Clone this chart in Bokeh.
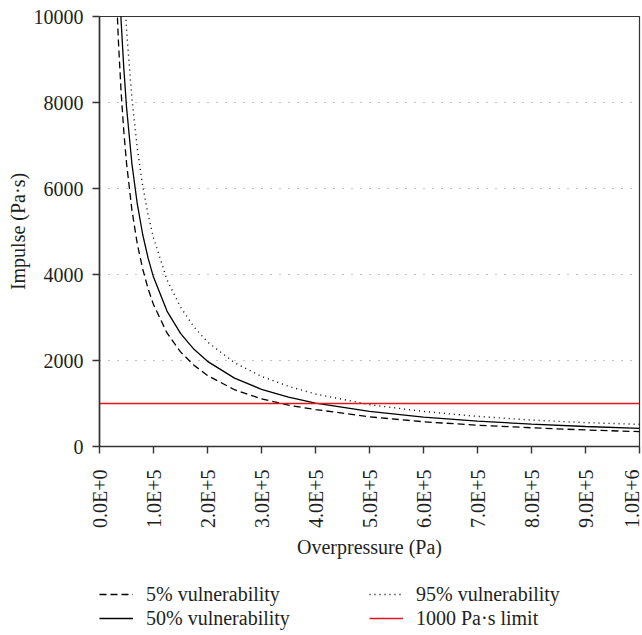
import math
from bokeh.plotting import figure
from bokeh.layouts import column
from bokeh.models import Range1d, FixedTicker, Legend, LegendItem
from bokeh.embed import file_html
from bokeh.resources import INLINE

# Data
pressure = [30e3, 35e3, 40e3, 45e3, 50e3, 60e3, 70e3, 80e3, 90e3, 100e3, 125e3, 150e3,
            175e3, 200e3, 250e3, 300e3, 350e3, 400e3, 500e3, 600e3, 700e3, 800e3, 900e3, 1000e3]
vuln_5 = [11000, 9430, 8250, 7330, 6600, 5500, 4710, 4130, 3670, 3300, 2640, 2200,
          1890, 1650, 1320, 1110, 960, 860, 690, 575, 495, 435, 385, 345]
vuln_50 = [13200, 11300, 9900, 8800, 7900, 6580, 5640, 4930, 4380, 3940, 3150, 2630,
           2260, 1980, 1590, 1330, 1150, 1010, 815, 685, 590, 520, 465, 420]
vuln_95 = [16200, 13900, 12150, 10800, 9700, 8100, 6930, 6060, 5390, 4850, 3880, 3240,
           2780, 2430, 1950, 1630, 1400, 1220, 975, 815, 700, 615, 555, 515]
limit_x = [0, 1e6]
limit_y = [1000, 1000]
series_labels = ["5% vulnerability", "50% vulnerability", "95% vulnerability", "1000 Pa·s limit"]

x_ticks = [0, 1e5, 2e5, 3e5, 4e5, 5e5, 6e5, 7e5, 8e5, 9e5, 1e6]
x_tick_labels = ["0.0E+0", "1.0E+5", "2.0E+5", "3.0E+5", "4.0E+5", "5.0E+5",
                 "6.0E+5", "7.0E+5", "8.0E+5", "9.0E+5", "1.0E+6"]
y_ticks = [0, 2000, 4000, 6000, 8000, 10000]

FONT = "Liberation Serif"
LEG_FONT = "'Liberation Serif', serif"
TXT = "#231f20"
AX = "#333333"
RED = "#e3141e"

styles = [dict(line_color="black", line_width=1.3, line_dash="7 4"),
          dict(line_color="black", line_width=1.3),
          dict(line_color="black", line_width=1.4, line_dash="1 4"),
          dict(line_color=RED, line_width=1.3)]

p = figure(frame_width=540, frame_height=430, output_backend="svg", toolbar_location=None,
           x_range=Range1d(0, 1e6), y_range=Range1d(0, 10000),
           min_border_left=99, min_border_right=3, min_border_top=16, min_border_bottom=136)

p.background_fill_color = "white"
p.border_fill_color = "white"
p.outline_line_color = AX
p.outline_line_width = 1.2

p.xgrid.visible = False
p.ygrid.grid_line_color = "#888888"
p.ygrid.grid_line_dash = "1 8"
p.ygrid.grid_line_width = 1

series_y = [vuln_5, vuln_50, vuln_95]
for ys, st in zip(series_y, styles[:3]):
    p.line(pressure, ys, **st)
p.line(limit_x, limit_y, **styles[3])

xa = p.xaxis[0]
xa.ticker = FixedTicker(ticks=x_ticks)
xa.major_label_overrides = {t: l for t, l in zip(x_ticks, x_tick_labels)}
xa.major_label_orientation = math.pi / 2
xa.axis_label = "Overpressure (Pa)"

ya = p.yaxis[0]
ya.ticker = FixedTicker(ticks=y_ticks)
ya.axis_label = "Impulse (Pa·s)"

for ax in (xa, ya):
    ax.axis_line_color = AX
    ax.axis_line_width = 1.6
    ax.major_tick_line_color = AX
    ax.major_tick_line_width = 1.4
    ax.major_tick_out = 7
    ax.major_tick_in = 0
    ax.minor_tick_line_color = None
    ax.major_label_text_font = FONT
    ax.major_label_text_font_size = "20px"
    ax.major_label_text_color = TXT
    ax.axis_label_text_font = FONT
    ax.axis_label_text_font_size = "20px"
    ax.axis_label_text_font_style = "normal"
    ax.axis_label_text_color = TXT

xa.major_label_standoff = 16
xa.axis_label_standoff = 5
ya.major_label_standoff = 9
ya.axis_label_standoff = 2

# Legend strip below the chart (its sample lines use the same series, out of view)
leg_fig = figure(frame_width=540, frame_height=53, output_backend="svg", toolbar_location=None,
                 x_range=Range1d(0, 1), y_range=Range1d(0, 1),
                 min_border_left=99, min_border_right=3,
                 min_border_top=0, min_border_bottom=0)
leg_fig.axis.visible = False
leg_fig.grid.visible = False
leg_fig.outline_line_color = None
leg_fig.background_fill_color = "white"
leg_fig.border_fill_color = "white"

leg_renderers = []
for ys, st in zip(series_y, styles[:3]):
    leg_renderers.append(leg_fig.line(pressure, ys, **st))
leg_renderers.append(leg_fig.line(limit_x, limit_y, **styles[3]))

legend = Legend(items=[LegendItem(label=lab, renderers=[r])
                       for lab, r in zip(series_labels, leg_renderers)],
                ncols=2, orientation="vertical", location=(0, 5),
                label_text_font=LEG_FONT, label_text_font_size="20px",
                label_text_color=TXT, label_text_baseline="middle")
legend.glyph_width = 34
legend.glyph_height = 24
legend.label_height = 24
legend.label_width = 223
legend.label_standoff = 13
legend.spacing = 0
legend.padding = 0
legend.margin = 0
legend.border_line_color = None
legend.background_fill_alpha = 0
legend.inactive_fill_alpha = 0
leg_fig.add_layout(legend, "center")

layout = column(p, leg_fig, spacing=0)
open("out.html", "w").write(file_html(layout, INLINE))
